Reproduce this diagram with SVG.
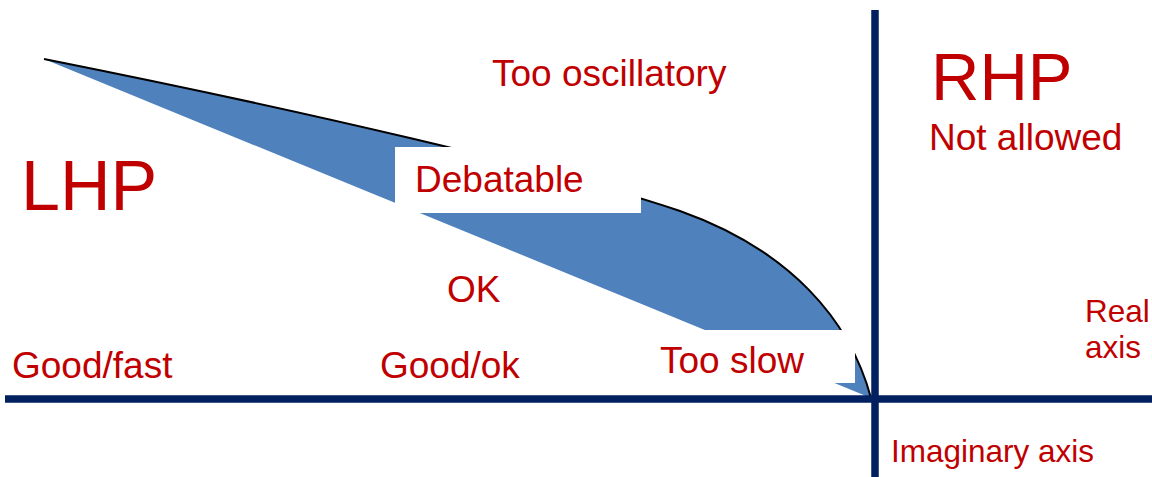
<svg xmlns="http://www.w3.org/2000/svg" width="1152" height="477" viewBox="0 0 1152 477">
<style>
.lbl{font-family:"Liberation Sans",Arial,sans-serif;fill:#C00000;font-size:37px}
.lhp{font-size:70px}
.rhp{font-size:67px}
.sm{font-size:31.5px}
.axis{stroke:#002060;stroke-width:7.5;fill:none}
.mask{fill:#FFFFFF;stroke:none}
</style>
<rect width="1152" height="477" fill="#FFFFFF"/>
<g id="region">
<path d="M44,59 C300,110 560,170 680,211 C790,250 850,320 871,398 Z" fill="#4F81BD" stroke="none"/>
<path d="M44,59 C300,110 560,170 680,211 C790,250 850,320 871,398" fill="none" stroke="#000000" stroke-width="2"/>
</g>
<g id="debatable">
<rect class="mask" x="395" y="147" width="246" height="66"/>
<text class="lbl" x="415" y="192">Debatable</text>
</g>
<g id="tooslow">
<rect class="mask" x="650" y="330" width="205" height="53"/>
<text class="lbl" x="660" y="373">Too slow</text>
</g>
<g id="lhp"><text class="lbl lhp" x="21" y="210">LHP</text></g>
<g id="rhp"><text class="lbl rhp" x="931" y="100">RHP</text></g>
<g id="notallowed"><text class="lbl" x="929" y="150">Not allowed</text></g>
<g id="toooscillatory"><text class="lbl" x="492" y="86">Too oscillatory</text></g>
<g id="ok"><text class="lbl" x="447" y="302">OK</text></g>
<g id="goodfast"><text class="lbl" x="12" y="378">Good/fast</text></g>
<g id="goodok"><text class="lbl" x="380" y="378">Good/ok</text></g>
<g id="realaxis"><text class="lbl sm" x="1085" y="322">Real</text><text class="lbl sm" x="1085" y="358">axis</text></g>
<g id="imagaxis"><text class="lbl sm" x="891" y="462">Imaginary axis</text></g>
<g id="connectors">
<line class="axis" x1="5" y1="399" x2="1152" y2="399"/>
<line class="axis" x1="875" y1="10" x2="875" y2="477"/>
</g>
</svg>
